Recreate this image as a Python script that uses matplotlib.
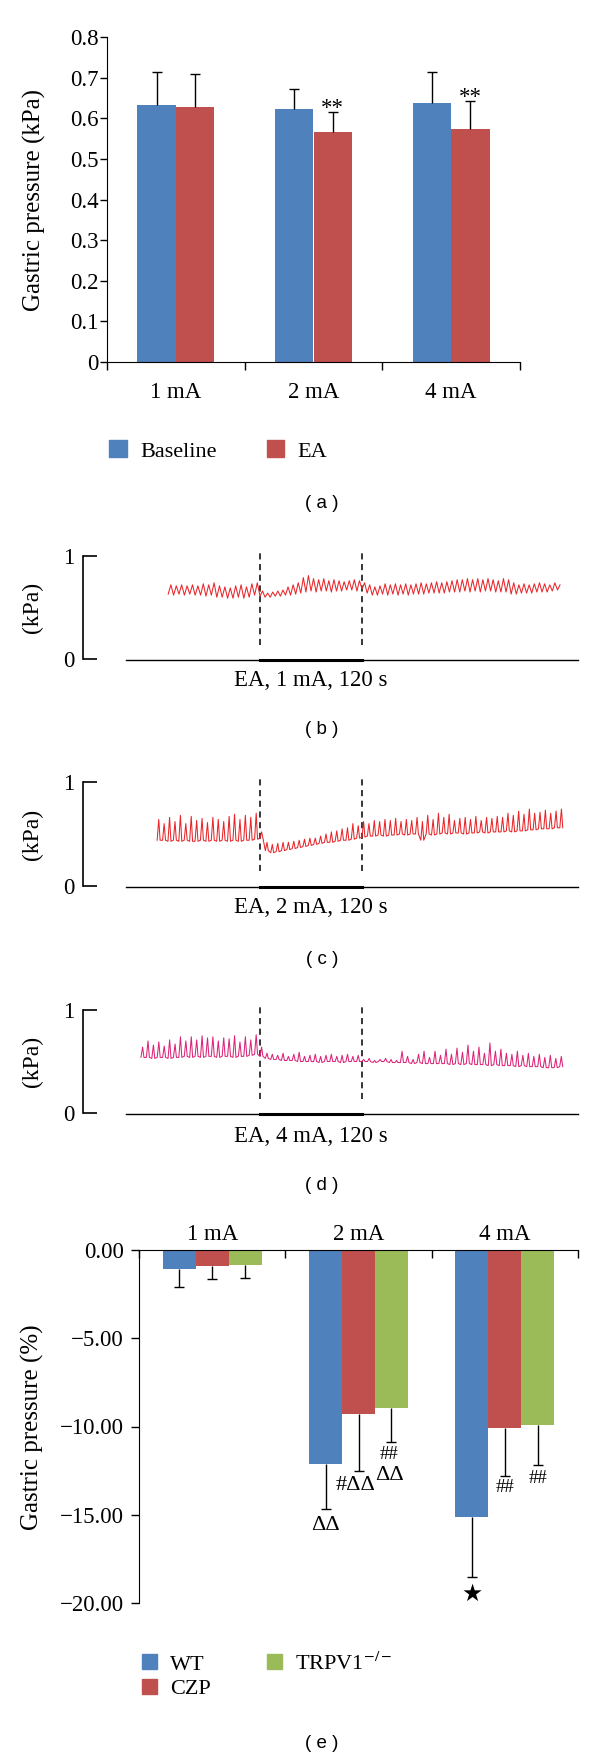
import numpy as np
import matplotlib
matplotlib.use('Agg')
import matplotlib.pyplot as plt
from matplotlib.patches import Patch

# ---------------- data ----------------
# (a) gastric pressure, kPa
cats_a = ['1 mA', '2 mA', '4 mA']
baseline = [0.633, 0.623, 0.637]
baseline_err = [0.080, 0.050, 0.076]
ea = [0.627, 0.567, 0.573]
ea_err = [0.081, 0.048, 0.069]
ea_stars = ['', '**', '**']

# (b)-(d) pressure traces: one peak / trough per contraction (kPa)
# segment bounds in s: [start, EA on, EA off, end]
b_bounds = [-108, 0, 120, 356]
b_pre_peak = [0.72, 0.71, 0.72, 0.71, 0.72, 0.71, 0.73, 0.72, 0.74, 0.71, 0.70, 0.69, 0.71, 0.72, 0.70, 0.73, 0.74]
b_pre_trough = [0.63, 0.62, 0.63, 0.62, 0.63, 0.62, 0.62, 0.61, 0.62, 0.60, 0.60, 0.59, 0.59, 0.60, 0.59, 0.60, 0.62]
b_ea_peak = [0.66, 0.64, 0.65, 0.66, 0.67, 0.70, 0.72, 0.74, 0.79, 0.81, 0.78, 0.77, 0.78, 0.76, 0.77, 0.76, 0.75, 0.76, 0.77, 0.76]
b_ea_trough = [0.61, 0.60, 0.60, 0.61, 0.61, 0.62, 0.62, 0.63, 0.64, 0.65, 0.66, 0.65, 0.66, 0.66, 0.65, 0.66, 0.66, 0.67, 0.67, 0.66]
b_post_peak = [0.74, 0.72, 0.70, 0.71, 0.73, 0.72, 0.73, 0.72, 0.73, 0.72, 0.73, 0.74, 0.73, 0.74, 0.75, 0.74, 0.75, 0.76, 0.77, 0.77,
               0.78, 0.77, 0.78, 0.77, 0.78, 0.77, 0.76, 0.78, 0.77, 0.74, 0.72, 0.73, 0.72, 0.73, 0.74, 0.73, 0.72, 0.74, 0.72]
b_post_trough = [0.68, 0.64, 0.62, 0.62, 0.63, 0.62, 0.63, 0.62, 0.63, 0.62, 0.63, 0.63, 0.63, 0.64, 0.64, 0.64, 0.64, 0.65, 0.65, 0.65,
                 0.66, 0.65, 0.66, 0.65, 0.66, 0.66, 0.65, 0.65, 0.65, 0.63, 0.63, 0.64, 0.64, 0.64, 0.65, 0.65, 0.65, 0.66, 0.67]

c_bounds = [-121, 0, 120, 359]
c_pre_peak = [0.64, 0.60, 0.66, 0.62, 0.68, 0.60, 0.67, 0.63, 0.65, 0.61, 0.66, 0.64, 0.62, 0.67, 0.69, 0.64, 0.68, 0.66, 0.70]
c_pre_trough = [0.44, 0.44, 0.43, 0.44, 0.43, 0.44, 0.43, 0.43, 0.44, 0.43, 0.44, 0.43, 0.44, 0.43, 0.44, 0.43, 0.44, 0.44, 0.45]
c_ea_peak = [0.52, 0.42, 0.40, 0.41, 0.42, 0.42, 0.43, 0.44, 0.45, 0.46, 0.46, 0.48, 0.50, 0.52, 0.53, 0.55, 0.56, 0.60, 0.58]
c_ea_trough = [0.46, 0.34, 0.32, 0.33, 0.34, 0.35, 0.36, 0.37, 0.38, 0.39, 0.40, 0.41, 0.42, 0.42, 0.43, 0.44, 0.44, 0.45, 0.46]
c_post_peak = [0.62, 0.60, 0.63, 0.62, 0.64, 0.63, 0.65, 0.62, 0.64, 0.63, 0.66, 0.62, 0.68, 0.64, 0.70, 0.66, 0.69, 0.63, 0.65, 0.66,
               0.64, 0.67, 0.63, 0.66, 0.65, 0.67, 0.66, 0.70, 0.68, 0.72, 0.69, 0.74, 0.70, 0.71, 0.73, 0.70, 0.72, 0.74]
c_post_trough = [0.47, 0.48, 0.48, 0.49, 0.48, 0.49, 0.49, 0.50, 0.49, 0.50, 0.50, 0.44, 0.50, 0.49, 0.50, 0.51, 0.50, 0.51, 0.51, 0.50,
                 0.51, 0.51, 0.52, 0.51, 0.52, 0.52, 0.52, 0.53, 0.52, 0.53, 0.53, 0.54, 0.54, 0.55, 0.55, 0.55, 0.56, 0.56]

d_bounds = [-140, 0, 120, 359]
d_pre_peak = [0.64, 0.70, 0.66, 0.69, 0.65, 0.71, 0.67, 0.74, 0.70, 0.74, 0.71, 0.75, 0.73, 0.74, 0.70, 0.73, 0.72, 0.75, 0.69, 0.74, 0.71, 0.76]
d_pre_trough = [0.54, 0.54, 0.53, 0.54, 0.54, 0.53, 0.54, 0.54, 0.55, 0.54, 0.55, 0.54, 0.55, 0.55, 0.54, 0.55, 0.55, 0.54, 0.55, 0.55, 0.56, 0.57]
d_ea_peak = [0.64, 0.58, 0.57, 0.56, 0.58, 0.55, 0.57, 0.59, 0.55, 0.56, 0.57, 0.55, 0.56, 0.57, 0.55, 0.56, 0.57, 0.55, 0.56]
d_ea_trough = [0.55, 0.53, 0.52, 0.52, 0.51, 0.51, 0.51, 0.50, 0.50, 0.50, 0.50, 0.49, 0.50, 0.50, 0.50, 0.49, 0.50, 0.50, 0.50]
d_post_peak = [0.52, 0.53, 0.51, 0.52, 0.53, 0.52, 0.51, 0.60, 0.55, 0.52, 0.57, 0.60, 0.54, 0.60, 0.56, 0.62, 0.57, 0.63, 0.59, 0.66,
               0.60, 0.64, 0.58, 0.68, 0.60, 0.62, 0.58, 0.57, 0.60, 0.56, 0.58, 0.55, 0.57, 0.54, 0.56, 0.53, 0.55]
d_post_trough = [0.50, 0.50, 0.49, 0.50, 0.50, 0.49, 0.49, 0.49, 0.49, 0.48, 0.49, 0.48, 0.48, 0.48, 0.48, 0.48, 0.47, 0.48, 0.47, 0.48,
                 0.47, 0.47, 0.47, 0.46, 0.47, 0.46, 0.46, 0.46, 0.45, 0.46, 0.45, 0.45, 0.45, 0.44, 0.44, 0.44, 0.45]

# (e) change of gastric pressure, %
cats_e = ['1 mA', '2 mA', '4 mA']
groups_e = ['WT', 'CZP', 'TRPV1$^{-/-}$']
wt = [-1.05, -12.1, -15.1]
wt_err = [1.03, 2.6, 3.4]
czp = [-0.89, -9.3, -10.1]
czp_err = [0.77, 3.2, 2.7]
trpv = [-0.85, -8.95, -9.9]
trpv_err = [0.72, 1.9, 2.3]
# significance marks: (dose index, group index, text, px below error bar end, px shift)
marks = [(1, 0, 'ΔΔ', 16, 0), (1, 1, '#ΔΔ', 15, -3), (1, 2, '##', 13, -2), (1, 2, 'ΔΔ', 34, -2),
         (2, 0, '★', 17, 0), (2, 1, '##', 12, 0), (2, 2, '##', 13, 0)]

BLUE = '#4f81bd'
RED = '#c0504d'
GREEN = '#9bbb59'

# ---------------- figure ----------------
W, H = 600, 1759
plt.rcParams['font.family'] = ['Liberation Serif', 'DejaVu Serif']
plt.rcParams['mathtext.fontset'] = 'stix'
fig = plt.figure(figsize=(W / 100, H / 100), dpi=100)
FS = 16.5


def fx(px):
    return px / W


def fy(py):
    return 1 - py / H


def box(left, top, right, bottom):
    return fig.add_axes([left / W, 1 - bottom / H, (right - left) / W, (bottom - top) / H])


def panel_label(txt, y):
    fig.text(fx(322), fy(y), txt, family='Liberation Sans', fontsize=13.5, ha='center', va='center')


def err_bars(ax, x, start, length):
    # one-sided error bars: stem from bar end plus a cap at the far end
    end = np.asarray(start) + np.asarray(length)
    ax.vlines(x, start, end, colors='black', lw=1.0, zorder=3)
    ax.plot(x, end, ls='none', marker='_', ms=7, mew=1.0, color='black', zorder=3)


# ---- (a)
ax = box(107, 37, 520, 362)
xa = np.arange(3) + 0.5
ax.bar(xa - 0.14, baseline, 0.28, color=BLUE)
ax.bar(xa + 0.14, ea, 0.28, color=RED)
err_bars(ax, xa - 0.14, baseline, baseline_err)
err_bars(ax, xa + 0.14, ea, ea_err)
for i in range(3):
    if ea_stars[i]:
        ax.annotate(ea_stars[i], xy=(xa[i] + 0.14, ea[i] + ea_err[i]), xytext=(0, 2.5),
                    textcoords='offset points', ha='center', va='center', fontsize=FS)
    ax.text(xa[i], -0.095, cats_a[i], transform=ax.get_xaxis_transform(), ha='center', va='center', fontsize=FS)
ax.set_xlim(0, 3)
ax.set_ylim(0, 0.8)
ax.set_xticks([0, 1, 2, 3])
ax.set_xticklabels([])
yt = np.arange(0, 0.81, 0.1)
ax.set_yticks(yt)
ax.set_yticklabels(['0'] + ['%.1f' % v for v in yt[1:]])
ax.tick_params(axis='x', direction='out', length=6, width=1)
ax.tick_params(axis='y', direction='out', length=5, width=1, pad=1, labelsize=FS)
for s in ['top', 'right']:
    ax.spines[s].set_visible(False)
fig.text(fx(34), fy(200), 'Gastric pressure (kPa)', rotation=90, ha='center', va='center', fontsize=18)
fig.legend([Patch(color=BLUE), Patch(color=RED)], ['Baseline', 'EA'], ncol=2, loc='center left',
           bbox_to_anchor=(fx(109), fy(451)), frameon=False, fontsize=16, handlelength=0.8,
           handleheight=0.8, handletextpad=0.6, columnspacing=2.25, borderpad=0, borderaxespad=0)
panel_label('( a )', 503)


# ---- (b)-(d)
def build_trace(bounds, peaks_list, troughs_list, spiky):
    ts, vs = [], []
    for k in range(3):
        t0, t1 = bounds[k], bounds[k + 1]
        peaks, troughs = peaks_list[k], troughs_list[k]
        dt = (t1 - t0) / len(peaks)
        for i in range(len(peaks)):
            base = t0 + i * dt
            if spiky:
                ts += [base, base + 0.3 * dt, base + 0.55 * dt]
                vs += [troughs[i], peaks[i], troughs[i]]
            else:
                ts += [base, base + 0.5 * dt]
                vs += [troughs[i], peaks[i]]
    return ts, vs


def trace_panel(top1, bottom0, bounds, peaks_list, troughs_list, spiky, color, label, label_y, plabel, plabel_y):
    ax = box(83, top1, 578, bottom0)
    ax.set_xlim(-208.2, 374.1)
    ax.set_ylim(0, 1)
    for s in ['top', 'right', 'bottom']:
        ax.spines[s].set_visible(False)
    ax.spines['left'].set_linewidth(1.2)
    ax.set_xticks([])
    ax.set_yticks([0, 1])
    ax.set_yticklabels(['0', '1'])
    ax.tick_params(axis='y', direction='in', length=10, width=1.2, pad=6, labelsize=FS)
    # recording axis with EA period emphasised
    ax.plot([-158, 374], [-0.01, -0.01], color='black', lw=1.0, clip_on=False)
    ax.plot([0, 120], [-0.01, -0.01], color='black', lw=2.2, clip_on=False)
    ax.vlines([0, 120], 0.14, 1.03, colors='black', linestyles=(0, (4, 3)), lw=1.1, clip_on=False)
    t, v = build_trace(bounds, peaks_list, troughs_list, spiky)
    ax.plot(t, v, color=color, lw=0.75, clip_on=False)
    fig.text(fx(32), fy((top1 + bottom0) / 2), '(kPa)', rotation=90, ha='center', va='center', fontsize=17)
    fig.text(fx(311), fy(label_y), label, ha='center', va='center', fontsize=FS)
    panel_label(plabel, plabel_y)


trace_panel(556, 659, b_bounds, [b_pre_peak, b_ea_peak, b_post_peak], [b_pre_trough, b_ea_trough, b_post_trough],
            False, '#e8262a', 'EA, 1 mA, 120 s', 681, '( b )', 730)
trace_panel(782, 886, c_bounds, [c_pre_peak, c_ea_peak, c_post_peak], [c_pre_trough, c_ea_trough, c_post_trough],
            True, '#e8262a', 'EA, 2 mA, 120 s', 908, '( c )', 959)
trace_panel(1010, 1113, d_bounds, [d_pre_peak, d_ea_peak, d_post_peak], [d_pre_trough, d_ea_trough, d_post_trough],
            True, '#dc2478', 'EA, 4 mA, 120 s', 1137, '( d )', 1186)

# ---- (e)
ax = box(139, 1250, 578, 1603)
xe = np.arange(3) + 0.5
bw = 0.225
series = [(wt, wt_err, BLUE), (czp, czp_err, RED), (trpv, trpv_err, GREEN)]
for j, (vals, errs, col) in enumerate(series):
    xs = xe + (j - 1) * bw
    ax.bar(xs, vals, bw, color=col, label=groups_e[j])
    err_bars(ax, xs, vals, -np.asarray(errs))
for gi, sj, txt, dy, dx in marks:
    vals, errs, _ = series[sj]
    fam = ['DejaVu Sans'] if txt == '★' else ['Liberation Serif', 'DejaVu Serif']
    size = 17 if txt == '★' else (13.5 if txt == '##' else 16)
    ax.annotate(txt, xy=(xe[gi] + (sj - 1) * bw, vals[gi] - errs[gi]), xytext=(dx * 0.72, -dy * 0.72),
                textcoords='offset points', ha='center', va='center', fontsize=size, family=fam)
for i in range(3):
    ax.text(xe[i], 1.045, cats_e[i], transform=ax.get_xaxis_transform(), ha='center', va='center', fontsize=FS)
ax.set_xlim(0, 3)
ax.set_ylim(-20, 0)
ax.xaxis.set_ticks_position('top')
ax.set_xticks([0, 1, 2, 3])
ax.set_xticklabels([])
ax.tick_params(axis='x', direction='in', length=6, width=1, labeltop=False, labelbottom=False)
ax.set_yticks([0, -5, -10, -15, -20])
ax.set_yticklabels(['0.00', '\u22125.00', '\u221210.00', '\u221215.00', '\u221220.00'])
ax.tick_params(axis='y', direction='out', length=6, width=1, pad=5, labelsize=FS)
for s in ['bottom', 'right']:
    ax.spines[s].set_visible(False)
fig.text(fx(32), fy(1427), 'Gastric pressure (%)', rotation=90, ha='center', va='center', fontsize=18)
fig.legend([Patch(color=BLUE), Patch(color=RED), Patch(color=GREEN)], groups_e, ncol=2, loc='upper left',
           bbox_to_anchor=(fx(142), fy(1652)), frameon=False, fontsize=16, handlelength=0.68,
           handleheight=0.68, handletextpad=0.6, columnspacing=2.5, labelspacing=0.2,
           borderpad=0, borderaxespad=0)
panel_label('( e )', 1743)

fig.savefig('out.png', dpi=100)
